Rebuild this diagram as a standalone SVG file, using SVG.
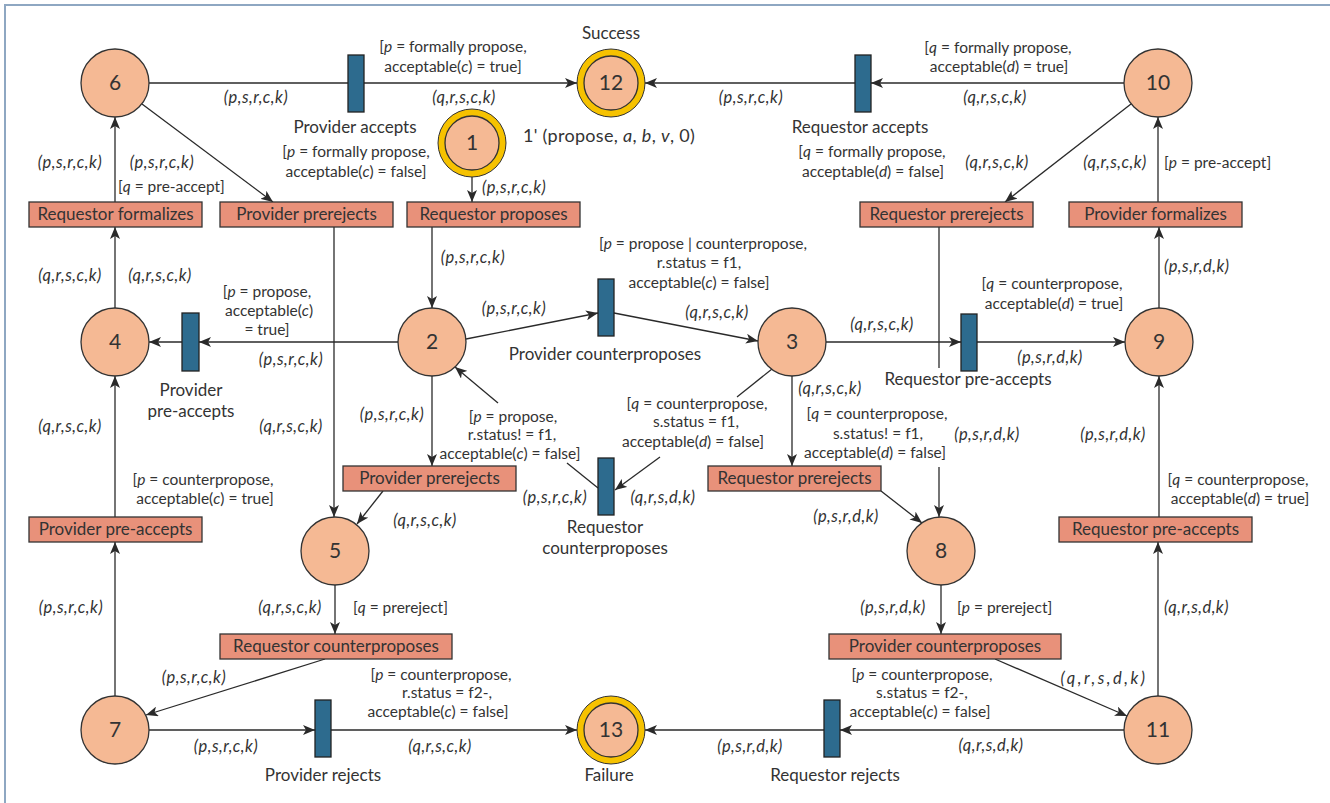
<svg xmlns="http://www.w3.org/2000/svg" width="1330" height="803" viewBox="0 0 1330 803">
<style>
text{font-family:Lato,"Open Sans","Liberation Sans",sans-serif;fill:#333}
.l{font-size:15.5px;text-anchor:middle}
.ls{font-size:15.5px}
.i{font-style:italic}
.tp{font-size:16.5px;letter-spacing:0.5px}
.b{font-size:17px;text-anchor:middle}
.n{font-size:21px;text-anchor:middle}
.c{fill:none;stroke:#2a2a2a;stroke-width:1.3}
.a{marker-end:url(#ah)}
.pl{fill:#F5B994;stroke:#333;stroke-width:1.3}
.gold{fill:#F6C200;stroke:#333;stroke-width:1}
.tr{fill:#2D6B8E;stroke:#222;stroke-width:1.3}
.bx{fill:#E8917A;stroke:#333;stroke-width:1.3}
</style>
<defs>
<marker id="ah" markerWidth="12" markerHeight="10" refX="12" refY="5" orient="auto" markerUnits="userSpaceOnUse"><path d="M0,0 L12,5 L0,10 L3,5 z" fill="#2a2a2a"/></marker>
</defs>
<rect x="5" y="5" width="1340" height="820" fill="#fff" stroke="#8EA7C2" stroke-width="2"/>

<g id="connectors">
<path class="c" d="M149,83 H348"/>
<path class="c a" d="M364,83 H577"/>
<path class="c a" d="M1124,83 H871"/>
<path class="c a" d="M855,83 H645"/>
<path class="c a" d="M142,104 L273,202"/>
<path class="c a" d="M115,202 V117"/>
<path class="c a" d="M115,308 V227"/>
<path class="c a" d="M334,227 V517"/>
<path class="c a" d="M432,227 V308"/>
<path class="c a" d="M472,177 V202"/>
<path class="c a" d="M398,342 H199"/>
<path class="c a" d="M182,342 H149"/>
<path class="c a" d="M466,339 L598,313"/>
<path class="c a" d="M614,313 L758,341"/>
<path class="c a" d="M826,342 H961"/>
<path class="c a" d="M977,342 H1125"/>
<path class="c" d="M939,227 V368"/>
<path class="c a" d="M939,467 V517"/>
<path class="c a" d="M1131,104 L1005,202"/>
<path class="c a" d="M1158,202 V117"/>
<path class="c a" d="M1159,308 V227"/>
<path class="c a" d="M1159,517 V376"/>
<path class="c a" d="M1158,696 V542"/>
<path class="c a" d="M995,659 L1127,716"/>
<path class="c a" d="M941,585 V634"/>
<path class="c a" d="M881,491 L922,523"/>
<path class="c a" d="M792,376 V466"/>
<path class="c" d="M772,369 L737,397"/>
<path class="c a" d="M660,457 L615,490"/>
<path class="c" d="M598,488 L567,463"/>
<path class="c a" d="M498,403 L455,367"/>
<path class="c a" d="M432,376 V466"/>
<path class="c a" d="M383,491 L357,524"/>
<path class="c a" d="M335,585 V634"/>
<path class="c a" d="M325,659 L146,715"/>
<path class="c a" d="M115,696 V542"/>
<path class="c a" d="M115,517 V376"/>
<path class="c a" d="M149,730 H315"/>
<path class="c a" d="M331,730 H577"/>
<path class="c a" d="M1124,730 H840"/>
<path class="c a" d="M824,730 H645"/>
</g>

<g id="p6"><circle class="pl" cx="115" cy="83" r="34"/><text class="n" x="115" y="90">6</text></g>
<g id="p12"><circle class="gold" cx="611" cy="83" r="34"/><circle class="pl" cx="611" cy="83" r="27"/><text class="n" x="611" y="90">12</text></g>
<g id="p10"><circle class="pl" cx="1158" cy="83" r="34"/><text class="n" x="1158" y="90">10</text></g>
<g id="p1"><circle class="gold" cx="472" cy="143" r="34"/><circle class="pl" cx="472" cy="143" r="27"/><text class="n" x="472" y="150">1</text></g>
<g id="p4"><circle class="pl" cx="115" cy="342" r="34"/><text class="n" x="115" y="349">4</text></g>
<g id="p2"><circle class="pl" cx="432" cy="342" r="34"/><text class="n" x="432" y="349">2</text></g>
<g id="p3"><circle class="pl" cx="792" cy="342" r="34"/><text class="n" x="792" y="349">3</text></g>
<g id="p9"><circle class="pl" cx="1159" cy="342" r="34"/><text class="n" x="1159" y="349">9</text></g>
<g id="p5"><circle class="pl" cx="335" cy="551" r="34"/><text class="n" x="335" y="558">5</text></g>
<g id="p8"><circle class="pl" cx="941" cy="551" r="34"/><text class="n" x="941" y="558">8</text></g>
<g id="p7"><circle class="pl" cx="115" cy="730" r="34"/><text class="n" x="115" y="737">7</text></g>
<g id="p13"><circle class="gold" cx="611" cy="730" r="34"/><circle class="pl" cx="611" cy="730" r="27"/><text class="n" x="611" y="737">13</text></g>
<g id="p11"><circle class="pl" cx="1158" cy="730" r="34"/><text class="n" x="1158" y="737">11</text></g>

<g id="t-provider-accepts"><rect class="tr" x="348" y="55" width="16" height="57"/><text class="b" x="355" y="133">Provider accepts</text></g>
<g id="t-requestor-accepts"><rect class="tr" x="855" y="55" width="16" height="57"/><text class="b" x="860" y="133">Requestor accepts</text></g>
<g id="t-provider-preaccepts-bar"><rect class="tr" x="182" y="313" width="17" height="58"/><text class="b" x="191" y="396">Provider</text><text class="b" x="191" y="417">pre-accepts</text></g>
<g id="t-provider-counterproposes-bar"><rect class="tr" x="598" y="279" width="16" height="57"/><text class="b" x="605" y="360">Provider counterproposes</text></g>
<g id="t-requestor-counterproposes-bar"><rect class="tr" x="598" y="458" width="16" height="57"/><text class="b" x="605" y="533">Requestor</text><text class="b" x="605" y="554">counterproposes</text></g>
<g id="t-requestor-preaccepts-bar"><rect class="tr" x="961" y="314" width="16" height="57"/><text class="b" x="968" y="385">Requestor pre-accepts</text></g>
<g id="t-provider-rejects"><rect class="tr" x="315" y="700" width="16" height="57"/><text class="b" x="323" y="781">Provider rejects</text></g>
<g id="t-requestor-rejects"><rect class="tr" x="824" y="700" width="16" height="57"/><text class="b" x="835" y="781">Requestor rejects</text></g>

<g id="b-requestor-formalizes"><rect class="bx" x="29" y="202" width="173" height="25"/><text class="b" x="115.5" y="220">Requestor formalizes</text></g>
<g id="b-provider-prerejects-top"><rect class="bx" x="220" y="202" width="173" height="25"/><text class="b" x="306.5" y="220">Provider prerejects</text></g>
<g id="b-requestor-proposes"><rect class="bx" x="407" y="202" width="173" height="25"/><text class="b" x="493.5" y="220">Requestor proposes</text></g>
<g id="b-requestor-prerejects-top"><rect class="bx" x="860" y="202" width="173" height="25"/><text class="b" x="946.5" y="220">Requestor prerejects</text></g>
<g id="b-provider-formalizes"><rect class="bx" x="1069" y="202" width="173" height="25"/><text class="b" x="1155.5" y="220">Provider formalizes</text></g>
<g id="b-provider-preaccepts"><rect class="bx" x="29" y="517" width="173" height="25"/><text class="b" x="115.5" y="535">Provider pre-accepts</text></g>
<g id="b-provider-prerejects-mid"><rect class="bx" x="343" y="466" width="173" height="25"/><text class="b" x="429.5" y="484">Provider prerejects</text></g>
<g id="b-requestor-prerejects-mid"><rect class="bx" x="708" y="466" width="173" height="25"/><text class="b" x="794.5" y="484">Requestor prerejects</text></g>
<g id="b-requestor-preaccepts"><rect class="bx" x="1059" y="517" width="193" height="25"/><text class="b" x="1155.5" y="535">Requestor pre-accepts</text></g>
<g id="b-requestor-counterproposes"><rect class="bx" x="220" y="634" width="232" height="25"/><text class="b" x="336" y="652">Requestor counterproposes</text></g>
<g id="b-provider-counterproposes"><rect class="bx" x="829" y="634" width="232" height="25"/><text class="b" x="945" y="652">Provider counterproposes</text></g>

<g id="labels">
<text class="b" x="611" y="39">Success</text>
<text class="b" x="609" y="781">Failure</text>
<text x="523" y="142" style="font-size:18px;letter-spacing:0.3px">1' (propose, <tspan class="i">a</tspan>, <tspan class="i">b</tspan>, <tspan class="i">v</tspan>, 0)</text>
<text class="i tp" x="482" y="193">(p,s,r,c,k)</text>

<text class="l i tp" x="256" y="103">(p,s,r,c,k)</text>
<text class="l" x="453" y="52">[<tspan class="i">p</tspan> = formally propose,</text>
<text class="l" x="453" y="72">acceptable(<tspan class="i">c</tspan>) = true]</text>
<text class="l i tp" x="464" y="103">(q,r,s,c,k)</text>
<text class="l" x="356" y="157">[<tspan class="i">p</tspan> = formally propose,</text>
<text class="l" x="356" y="177">acceptable(<tspan class="i">c</tspan>) = false]</text>
<text class="l i tp" x="751" y="103">(p,s,r,c,k)</text>
<text class="l" x="998" y="53">[<tspan class="i">q</tspan> = formally propose,</text>
<text class="l" x="999" y="72">acceptable(<tspan class="i">d</tspan>) = true]</text>
<text class="l i tp" x="995" y="103">(q,r,s,c,k)</text>
<text class="l" x="872" y="157">[<tspan class="i">q</tspan> = formally propose,</text>
<text class="l" x="873" y="177">acceptable(<tspan class="i">d</tspan>) = false]</text>
<text class="l i tp" x="997" y="168">(q,r,s,c,k)</text>
<text class="l i tp" x="1115" y="168">(q,r,s,c,k)</text>
<text class="ls" x="1164" y="168">[<tspan class="i">p</tspan> = pre-accept]</text>
<text class="l i tp" x="70" y="168">(p,s,r,c,k)</text>
<text class="l i tp" x="162" y="168">(p,s,r,c,k)</text>
<text class="ls" x="118" y="192">[<tspan class="i">q</tspan> = pre-accept]</text>

<text class="l i tp" x="70" y="281">(q,r,s,c,k)</text>
<text class="l i tp" x="160" y="281">(q,r,s,c,k)</text>
<text class="l i tp" x="473" y="263">(p,s,r,c,k)</text>
<text class="l" x="267" y="297">[<tspan class="i">p</tspan> = propose,</text>
<text class="l" x="269" y="316">acceptable(<tspan class="i">c</tspan>)</text>
<text class="l" x="267" y="335">= true]</text>
<text class="l i tp" x="291" y="365">(p,s,r,c,k)</text>
<text class="l i tp" x="70" y="432">(q,r,s,c,k)</text>
<text class="l i tp" x="291" y="432">(q,r,s,c,k)</text>
<text class="l i tp" x="392" y="420">(p,s,r,c,k)</text>
<text class="l" x="203" y="485">[<tspan class="i">p</tspan> = counterpropose,</text>
<text class="l" x="205" y="504">acceptable(<tspan class="i">c</tspan>) = true]</text>
<text class="l i tp" x="514" y="314">(p,s,r,c,k)</text>
<text class="l" x="703" y="249">[<tspan class="i">p</tspan> = propose | counterpropose,</text>
<text class="l" x="699" y="268">r.status = f1,</text>
<text class="l" x="699" y="288">acceptable(<tspan class="i">c</tspan>) = false]</text>
<text class="l i tp" x="717" y="318">(q,r,s,c,k)</text>
<text class="l" x="513" y="422">[<tspan class="i">p</tspan> = propose,</text>
<text class="l" x="512" y="440">r.status! = f1,</text>
<text class="l" x="510" y="459">acceptable(<tspan class="i">c</tspan>) = false]</text>
<text class="l" x="697" y="409">[<tspan class="i">q</tspan> = counterpropose,</text>
<text class="l" x="696" y="427">s.status = f1,</text>
<text class="l" x="693" y="447">acceptable(<tspan class="i">d</tspan>) = false]</text>
<text class="l i tp" x="555" y="503">(p,s,r,c,k)</text>
<text class="l i tp" x="663" y="503">(q,r,s,d,k)</text>
<text class="l i tp" x="830" y="394">(q,r,s,c,k)</text>
<text class="l" x="877" y="419">[<tspan class="i">q</tspan> = counterpropose,</text>
<text class="l" x="878" y="439">s.status! = f1,</text>
<text class="l" x="875" y="458">acceptable(<tspan class="i">d</tspan>) = false]</text>
<text class="l i tp" x="987" y="440">(p,s,r,d,k)</text>
<text class="l i tp" x="882" y="330">(q,r,s,c,k)</text>
<text class="l" x="1052" y="289">[<tspan class="i">q</tspan> = counterpropose,</text>
<text class="l" x="1054" y="309">acceptable(<tspan class="i">d</tspan>) = true]</text>
<text class="l i tp" x="1050" y="363">(p,s,r,d,k)</text>
<text class="i tp" x="1164" y="272">(p,s,r,d,k)</text>
<text class="l i tp" x="1113" y="440">(p,s,r,d,k)</text>
<text class="l" x="1238" y="485">[<tspan class="i">q</tspan> = counterpropose,</text>
<text class="l" x="1240" y="504">acceptable(<tspan class="i">d</tspan>) = true]</text>

<text class="l i tp" x="425" y="526">(q,r,s,c,k)</text>
<text class="l i tp" x="846" y="522">(p,s,r,d,k)</text>
<text class="l i tp" x="71" y="613">(p,s,r,c,k)</text>
<text class="l i tp" x="290" y="613">(q,r,s,c,k)</text>
<text class="ls" x="353" y="613">[<tspan class="i">q</tspan> = prereject]</text>
<text class="l i tp" x="893" y="613">(p,s,r,d,k)</text>
<text class="ls" x="957" y="613">[<tspan class="i">p</tspan> = prereject]</text>
<text class="l i tp" x="194" y="683">(p,s,r,c,k)</text>
<text class="l" x="441" y="680">[<tspan class="i">p</tspan> = counterpropose,</text>
<text class="l" x="447" y="698">r.status = f2-,</text>
<text class="l" x="438" y="717">acceptable(<tspan class="i">c</tspan>) = false]</text>
<text class="l i tp" x="226" y="752">(p,s,r,c,k)</text>
<text class="l i tp" x="440" y="752">(q,r,s,c,k)</text>
<text class="l i tp" x="750" y="752">(p,s,r,d,k)</text>
<text class="l" x="922" y="680">[<tspan class="i">p</tspan> = counterpropose,</text>
<text class="l" x="922" y="698">s.status = f2-,</text>
<text class="l" x="920" y="717">acceptable(<tspan class="i">c</tspan>) = false]</text>
<text class="l i" x="1104" y="684" style="font-size:16.5px;letter-spacing:2.5px">(q,r,s,d,k)</text>
<text class="l i tp" x="991" y="751">(q,r,s,d,k)</text>
<text class="i tp" x="1164" y="613">(q,r,s,d,k)</text>
</g>
</svg>
